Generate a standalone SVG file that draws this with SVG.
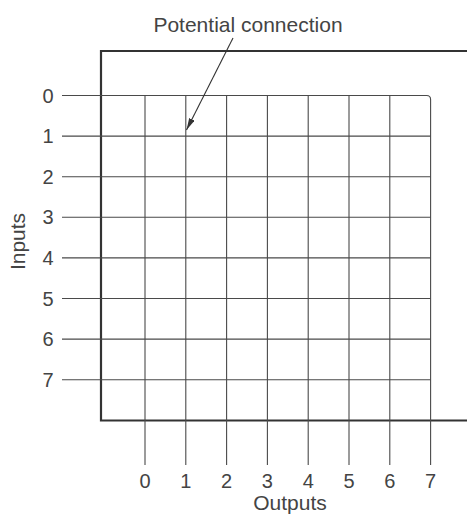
<svg xmlns="http://www.w3.org/2000/svg" width="467" height="518" viewBox="0 0 467 518">
<style>
.t{font-family:"Liberation Sans",Arial,sans-serif;font-size:20px;fill:#444;text-anchor:middle}
.g{stroke:#4a4a4a;stroke-width:1.1;fill:none}
.b{stroke:#333;stroke-width:2.2;fill:none}
</style>
<defs>
<marker id="ah" viewBox="0 0 12 6" refX="12" refY="3" markerWidth="12" markerHeight="6" markerUnits="userSpaceOnUse" orient="auto">
<path d="M0,0 L12,3 L0,6 Z" fill="#333"/>
</marker>
</defs>
<rect width="467" height="518" fill="#fff"/>
<g id="box">
<path class="b" d="M470,51 H101 V420.5 H470"/>
</g>
<g id="grid">
<path class="g" d="M62,95.5 H426.6 Q430.6,95.5 430.6,99.5 V465"/>
<path class="g" d="M62,136.1 H430.6 M62,176.7 H430.6 M62,217.3 H430.6 M62,257.9 H430.6 M62,298.5 H430.6 M62,339.1 H430.6 M62,379.7 H430.6"/>
<path class="g" d="M145,95.5 V465 M185.8,95.5 V465 M226.6,95.5 V465 M267.4,95.5 V465 M308.2,95.5 V465 M349,95.5 V465 M389.8,95.5 V465"/>
</g>
<g id="input-labels">
<text class="t" x="48" y="102.5">0</text>
<text class="t" x="48" y="143.1">1</text>
<text class="t" x="48" y="183.7">2</text>
<text class="t" x="48" y="224.3">3</text>
<text class="t" x="48" y="264.9">4</text>
<text class="t" x="48" y="305.5">5</text>
<text class="t" x="48" y="346.1">6</text>
<text class="t" x="48" y="386.7">7</text>
<text class="t" transform="translate(25,241.5) rotate(-90)" style="font-size:21px">Inputs</text>
</g>
<g id="output-labels">
<text class="t" x="145" y="488">0</text>
<text class="t" x="185.8" y="488">1</text>
<text class="t" x="226.6" y="488">2</text>
<text class="t" x="267.4" y="488">3</text>
<text class="t" x="308.2" y="488">4</text>
<text class="t" x="349" y="488">5</text>
<text class="t" x="389.8" y="488">6</text>
<text class="t" x="430.6" y="488">7</text>
<text class="t" x="290" y="510" style="font-size:21px">Outputs</text>
</g>
<g id="potential-connection">
<text class="t" x="248" y="32" style="font-size:21px">Potential connection</text>
</g>
<g id="connectors">
<line x1="233" y1="38" x2="186.5" y2="130" stroke="#333" stroke-width="1.1" marker-end="url(#ah)"/>
</g>
</svg>
